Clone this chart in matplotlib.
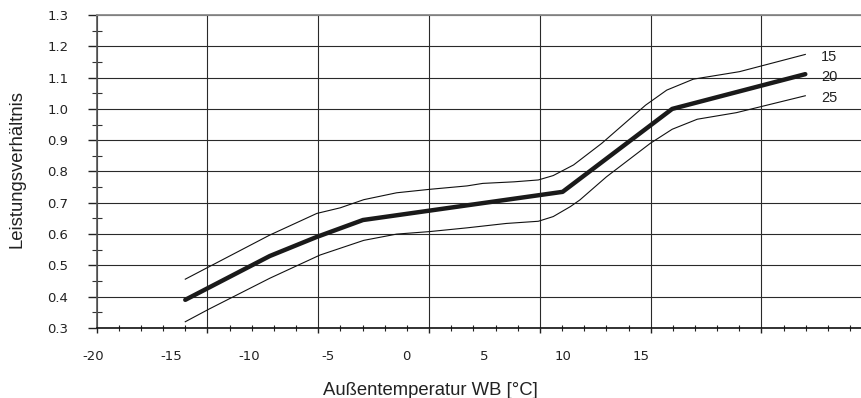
import numpy as np
import matplotlib
matplotlib.use("Agg")
import matplotlib.pyplot as plt
import matplotlib.transforms as mtransforms

# Werte (x in °C laut Achsbeschriftung)
temp_15 = [-14.1, -8.7, -5.7, -4.2, -2.7, -0.6, 1.5, 3.9, 4.9, 6.9, 8.45, 9.4,
           10.7, 12.5, 15.3, 16.65, 18.35, 21.3, 25.5]
ratio_15 = [0.456, 0.597, 0.666, 0.684, 0.710, 0.732, 0.743, 0.754, 0.762, 0.767,
            0.773, 0.787, 0.821, 0.890, 1.012, 1.060, 1.095, 1.119, 1.174]

temp_20 = [-14.1, -8.7, -5.7, -2.75, 10.0, 17.0, 25.5]
ratio_20 = [0.390, 0.530, 0.591, 0.645, 0.735, 1.000, 1.111]

temp_25 = [-14.1, -12.6, -8.7, -5.5, -2.7, -0.6, 1.5, 3.9, 6.4, 8.45, 9.4, 10.5,
           11.1, 12.8, 15.6, 17.0, 18.6, 21.1, 25.5]
ratio_25 = [0.320, 0.360, 0.459, 0.533, 0.580, 0.600, 0.608, 0.620, 0.634, 0.641,
            0.656, 0.688, 0.709, 0.783, 0.890, 0.935, 0.967, 0.988, 1.042]

curve_names = ["15", "20", "25"]
curve_label_y = [1.167, 1.103, 1.034]
x_tick_labels = [-20, -15, -10, -5, 0, 5, 10, 15]
y_ticks = [0.3, 0.4, 0.5, 0.6, 0.7, 0.8, 0.9, 1.0, 1.1, 1.2, 1.3]

W, H = 861, 398
fig = plt.figure(figsize=(W / 100, H / 100), dpi=100)
ax = fig.add_axes([96.7 / W, 1 - 328 / H, 1 - 96.7 / W, 313 / H])

x_left, x_right = -19.757, 29.058
tick_step = 1.4153
ax.set_xlim(x_left, x_right)
ax.set_ylim(0.3, 1.3)

# Linien
ax.plot(temp_15, ratio_15, color="#111111", lw=0.8)
ax.plot(temp_25, ratio_25, color="#111111", lw=0.8)
ax.plot(temp_20, ratio_20, color="#1a1a1a", lw=3.2, solid_capstyle="round")

# x-Teilstriche (kurze überall, lange an den Gitterlinien)
ks = np.arange(35)
ax.set_xticks(x_left + ks[ks % 5 == 0] * tick_step)
ax.set_xticks(x_left + ks[ks % 5 != 0] * tick_step, minor=True)
ax.tick_params(axis="x", which="major", direction="out", length=3.7, width=1.0,
               labelbottom=False, color="#222222")
ax.tick_params(axis="x", which="minor", direction="inout", length=5, width=0.8,
               color="#222222")

ax.set_yticks(y_ticks)
ax.set_yticks(np.arange(0.35, 1.3, 0.1), minor=True)
ax.set_yticklabels([f"{v:.1f}" for v in y_ticks])
ax.tick_params(axis="y", which="major", direction="out", length=6.5, width=1.0,
               pad=14, labelsize=9.5, color="#222222", labelcolor="#222222")
ax.tick_params(axis="y", which="minor", direction="inout", length=7.2, width=0.8,
               color="#333333")
for lab in ax.get_yticklabels():
    lab.set_family("DejaVu Sans")

ax.grid(True, which="major", color="#2a2a2a", lw=0.8)

ax.spines["right"].set_visible(False)
ax.spines["top"].set_color("#8a8a8a")
ax.spines["top"].set_linewidth(1.3)
ax.spines["left"].set_color("#555555")
ax.spines["left"].set_linewidth(1.2)
ax.spines["bottom"].set_color("#111111")
ax.spines["bottom"].set_linewidth(1.2)

# x-Beschriftungen (versetzt zu den Gitterlinien wie im Original)
trans = mtransforms.blended_transform_factory(ax.transData, ax.transAxes)
for t in x_tick_labels:
    ax.text(t, -0.0895, str(t), transform=trans, ha="center", va="center",
            fontsize=9.5, family="DejaVu Sans", color="#222222", clip_on=False)

# Kurvenbezeichnungen
for name, yv in zip(curve_names, curve_label_y):
    ax.text(26.5, yv, name, ha="left", va="center", fontsize=10.5,
            family="Liberation Sans", color="#222222")

fig.text(0.5, 3 / H, "Außentemperatur WB [°C]", ha="center", va="baseline",
         fontsize=13.3, family="Liberation Sans", color="#222222")
fig.text(17.5 / W, 1 - 168.5 / H, "Leistungsverhältnis", rotation=90,
         ha="center", va="center", fontsize=13.3, family="Liberation Sans",
         color="#222222")

fig.savefig("out.png", dpi=100)
